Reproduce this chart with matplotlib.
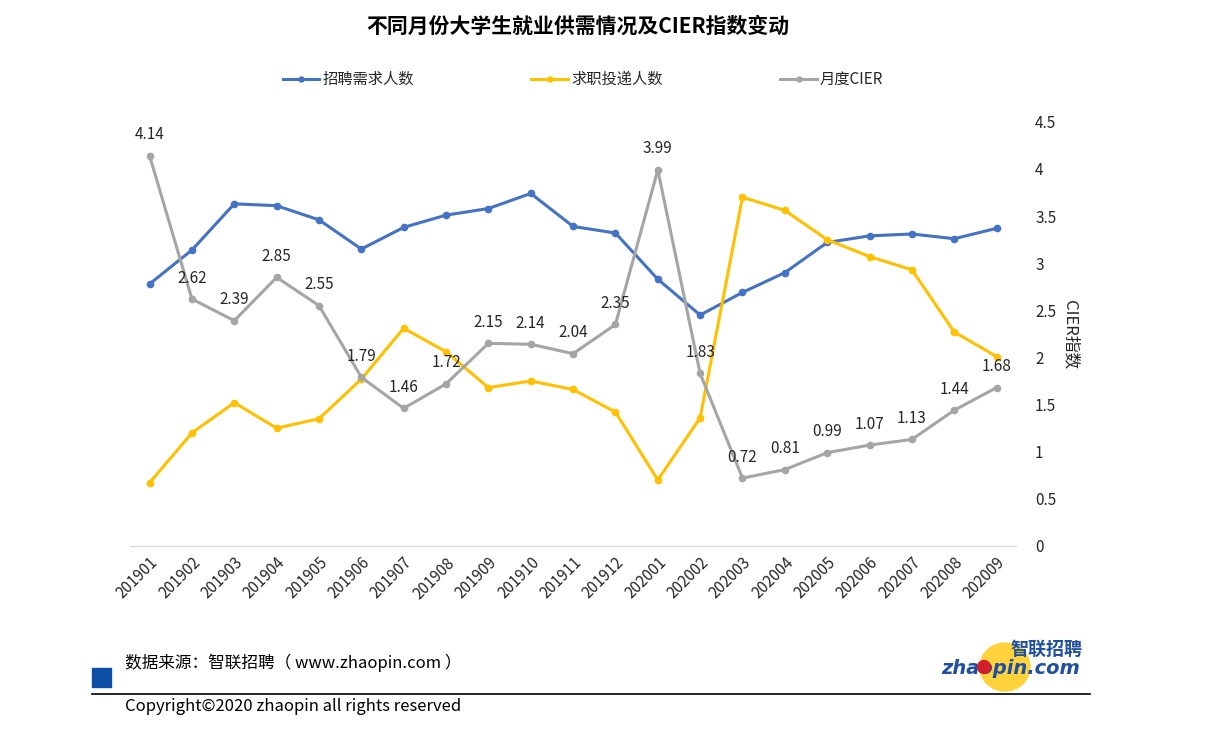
import matplotlib.pyplot as plt
import matplotlib.patches as mpatches
import numpy as np

plt.rcParams['font.family'] = ['Noto Sans CJK SC', 'DejaVu Sans']

# Data (blue / yellow in right-axis units; that axis is hidden for them)
months = ["201901", "201902", "201903", "201904", "201905", "201906", "201907",
          "201908", "201909", "201910", "201911", "201912", "202001", "202002",
          "202003", "202004", "202005", "202006", "202007", "202008", "202009"]
demand = [2.78, 3.14, 3.63, 3.61, 3.46, 3.15, 3.38, 3.51, 3.58, 3.74, 3.39,
          3.32, 2.83, 2.45, 2.69, 2.90, 3.22, 3.29, 3.31, 3.26, 3.37]
supply = [0.67, 1.20, 1.52, 1.25, 1.35, 1.77, 2.31, 2.06, 1.68, 1.75, 1.66,
          1.42, 0.70, 1.36, 3.70, 3.56, 3.25, 3.07, 2.93, 2.27, 2.01]
cier = [4.14, 2.62, 2.39, 2.85, 2.55, 1.79, 1.46, 1.72, 2.15, 2.14, 2.04,
        2.35, 3.99, 1.83, 0.72, 0.81, 0.99, 1.07, 1.13, 1.44, 1.68]

BLUE, YELLOW, GRAY = "#4472C4", "#FFC000", "#A5A5A5"
TXT = "#262626"

fig = plt.figure(figsize=(12.12, 7.52), dpi=100)
ax = fig.add_axes([0.107, 0.274, 0.731, 0.564])
x = np.arange(len(months))

ax.plot(x, demand, color=BLUE, lw=2.2, marker="o", ms=4.5, label="招聘需求人数")
ax.plot(x, supply, color=YELLOW, lw=2.2, marker="o", ms=4.5, label="求职投递人数")
ax.plot(x, cier, color=GRAY, lw=2.2, marker="o", ms=4.5, label="月度CIER")

for xi, v in zip(x, cier):
    ax.annotate(f"{v:.2f}", (xi, v), xytext=(0, 9), textcoords="offset points",
                ha="center", va="bottom", fontsize=11, color=TXT)

ax.set_xlim(-0.47, 20.45)
ax.set_ylim(0, 4.5)
ax.set_xticks(x)
ax.set_xticklabels(months, rotation=45, ha="right", rotation_mode="anchor",
                   fontsize=11, color=TXT)
ax.set_yticks(np.arange(0, 4.51, 0.5))
ax.set_yticklabels(["0", "0.5", "1", "1.5", "2", "2.5", "3", "3.5", "4", "4.5"])
ax.yaxis.tick_right()
ax.tick_params(axis="y", length=0, pad=14, labelsize=11, labelcolor=TXT)
ax.tick_params(axis="x", length=0, pad=6)
for s in ["top", "right", "left"]:
    ax.spines[s].set_visible(False)
ax.spines["bottom"].set_color("#D9D9D9")
ax.spines["bottom"].set_linewidth(1)

fig.text(0.883, 0.555, "CIER指数", rotation=-90, ha="center", va="center",
         fontsize=12, color=TXT)

fig.text(0.477, 0.965, "不同月份大学生就业供需情况及CIER指数变动", ha="center",
         va="center", fontsize=15, fontweight="bold", color="#000000")

fig.legend(loc="center", bbox_to_anchor=(0.481, 0.894), ncol=3, frameon=False,
           fontsize=11, handlelength=2.4, handletextpad=0.2, columnspacing=7.7,
           markerscale=0.8, labelcolor=TXT)

# footer
fig.text(0.103, 0.119, "数据来源：智联招聘（ www.zhaopin.com ）", ha="left",
         va="center", fontsize=12, color="#000000")
fig.patches.append(mpatches.Rectangle((92 / 1212, 1 - 687 / 752), 19 / 1212, 19 / 752,
                                      transform=fig.transFigure, color="#0D4EA6"))
fig.add_artist(plt.Line2D([92 / 1212, 1090 / 1212], [1 - 694 / 752] * 2,
                          transform=fig.transFigure, color="#000000", lw=1.2))
fig.text(0.103, 0.060, "Copyright©2020 zhaopin all rights reserved", ha="left",
         va="center", fontsize=12, color="#000000")

# logo
fig.patches.append(mpatches.Ellipse((1005 / 1212, 1 - 667 / 752), 50 / 1212, 48 / 752,
                                    transform=fig.transFigure, color="#FDD23A", zorder=1))
fig.text(1082 / 1212, 1 - 659 / 752, "智联招聘", ha="right", va="bottom",
         fontsize=13, color="#1F4FA0", fontweight="bold", zorder=3)
fig.text(1080 / 1212, 1 - 659 / 752, "zhaopin.com", ha="right", va="top",
         fontsize=14, color="#1F4FA0", fontweight="bold", style="italic",
         family="DejaVu Sans", zorder=3)
fig.patches.append(mpatches.Ellipse((984 / 1212, 1 - 667 / 752), 13 / 1212, 13 / 752,
                                    transform=fig.transFigure, color="#D0202A", zorder=4))

fig.savefig("out.png", dpi=100)
